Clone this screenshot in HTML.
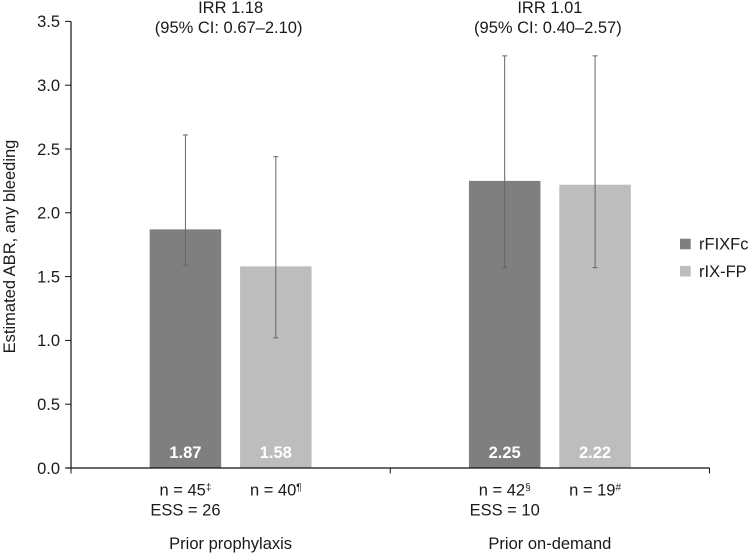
<!DOCTYPE html>
<html>
<head>
<meta charset="utf-8">
<style>
html,body{margin:0;padding:0;background:#fff;width:750px;height:555px;overflow:hidden}
svg{display:block}
text{font-family:"Liberation Sans",sans-serif;font-size:16.5px;fill:#1a1a1a}
</style>
</head>
<body>
<svg id="chart" width="750" height="555" viewBox="0 0 750 555" xmlns="http://www.w3.org/2000/svg"></svg>
<script>
const barLabels = ['prior-prophylaxis-rfixfc', 'prior-prophylaxis-rix-fp', 'prior-on-demand-rfixfc', 'prior-on-demand-rix-fp'];
const barValues = [1.87, 1.58, 2.25, 2.22];
const barPrinted = ['1.87', '1.58', '2.25', '2.22'];
const errorHigh = [2.61, 2.44, 3.23, 3.23];
const errorLow = [1.59, 1.02, 1.57, 1.57];
const barSeries = [0, 1, 0, 1];
const barGroup = [0, 0, 1, 1];
const seriesNames = ['rFIXFc', 'rIX-FP'];
const seriesColors = ['#7f7f7f', '#bdbdbd'];
const yTicks = [0, 0.5, 1, 1.5, 2, 2.5, 3, 3.5];
const groupNames = ['Prior prophylaxis', 'Prior on-demand'];
const groupIRR = ['IRR 1.18', 'IRR 1.01'];
const groupCI = ['(95% CI: 0.67\u20132.10)', '(95% CI: 0.40\u20132.57)'];
const nLabels = ['n = 45', 'n = 40', 'n = 42', 'n = 19'];
const nMarks = ['\u2021', '\u00b6', '\u00a7', '#'];
const essLabels = ['ESS = 26', '', 'ESS = 10', ''];

const svg = document.getElementById('chart');
const NS = 'http://www.w3.org/2000/svg';
const X0 = 71, X1 = 709.5, Y0 = 468, YT = 21.4, YMAX = 3.5;
const groupW = (X1 - X0) / groupNames.length;
const BAR_W = 71.5, BAR_OFFSET = 45.2;

function yAxis(v) { return Y0 - (v / YMAX) * (Y0 - YT); }
function groupCenter(g) { return X0 + groupW * (g + 0.5); }
function barCenter(i) { return groupCenter(barGroup[i]) + (barSeries[i] === 0 ? -1 : 1) * BAR_OFFSET; }

function make(tag, attrs, text) {
  const el = document.createElementNS(NS, tag);
  for (const k in attrs) el.setAttribute(k, attrs[k]);
  if (text !== undefined) el.textContent = text;
  svg.appendChild(el);
  return el;
}
let el;

barValues.forEach(function (v, i) {
  el = make('rect', { x: barCenter(i) - BAR_W / 2, y: yAxis(v), width: BAR_W, height: Y0 - yAxis(v), fill: seriesColors[barSeries[i]] });
  
  
});

errorHigh.forEach(function (h, i) {
  const cx = barCenter(i);
  el = make('line', { x1: cx, x2: cx, y1: yAxis(h), y2: yAxis(errorLow[i]), stroke: '#666', 'stroke-width': 1 });
  
  
  el = make('line', { x1: cx - 2.5, x2: cx + 2.5, y1: yAxis(h), y2: yAxis(h), stroke: '#666', 'stroke-width': 1 });
  
  
  el = make('line', { x1: cx - 2.5, x2: cx + 2.5, y1: yAxis(errorLow[i]), y2: yAxis(errorLow[i]), stroke: '#666', 'stroke-width': 1 });
  
  
});

el = make('line', { x1: X0, x2: X0, y1: YT, y2: Y0 + 0.5, stroke: '#111', 'stroke-width': 1.2 });


el = make('line', { x1: X0 - 5, x2: X1, y1: Y0, y2: Y0, stroke: '#111', 'stroke-width': 1.2 });



yTicks.forEach(function (t) {
  el = make('line', { x1: X0 - 6, x2: X0, y1: yAxis(t), y2: yAxis(t), stroke: '#111', 'stroke-width': 1 });
  
  
  el = make('text', { x: 60, y: yAxis(t) + 5.8, 'text-anchor': 'end' }, t.toFixed(1));
  
  
});

for (let g = 0; g <= groupNames.length; g++) {
  const tx = X0 + groupW * g;
  el = make('line', { x1: tx, x2: tx, y1: Y0, y2: Y0 + 5.5, stroke: '#111', 'stroke-width': 1 });
  
  
}

barPrinted.forEach(function (s, i) {
  el = make('text', { x: barCenter(i), y: 458, 'text-anchor': 'middle', style: 'font-weight:bold;fill:#fff' }, s);
  
  
});

nLabels.forEach(function (s, i) {
  el = make('text', { x: barCenter(i), y: 495.5, 'text-anchor': 'middle' }, s);
  
  
  const t = document.createElementNS(NS, 'tspan');
  t.setAttribute('dy', '-5');
  t.setAttribute('style', 'font-size:10px');
  t.textContent = nMarks[i];
  el.appendChild(t);
  if (essLabels[i]) {
    el = make('text', { x: barCenter(i), y: 515.5, 'text-anchor': 'middle' }, essLabels[i]);
    
    
  }
});

groupNames.forEach(function (s, g) {
  const c = (barCenter(g * 2) + barCenter(g * 2 + 1)) / 2;
  el = make('text', { x: c, y: 549, 'text-anchor': 'middle' }, s);
  
  
  el = make('text', { x: c, y: 13, 'text-anchor': 'middle' }, groupIRR[g]);
  
  
  el = make('text', { x: c - 2, y: 33, 'text-anchor': 'middle' }, groupCI[g]);
  
  
});

el = make('text', { x: 0, y: 0, 'text-anchor': 'middle', transform: 'translate(15,246.5) rotate(-90)' }, 'Estimated ABR, any bleeding');



seriesNames.forEach(function (s, k) {
  const ly = 244 + k * 27.2;
  el = make('rect', { x: 680, y: ly - 5.3, width: 10.7, height: 10.6, fill: seriesColors[k] });
  
  
  el = make('text', { x: 699, y: ly + 5.6 }, s);
  
  
});
</script>
</body>
</html>
